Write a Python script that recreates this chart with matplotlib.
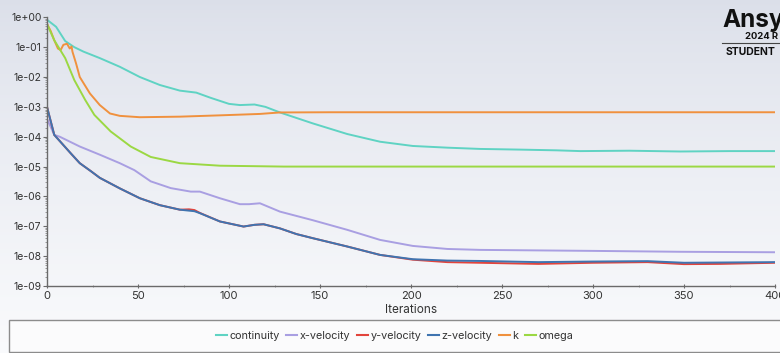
import numpy as np
import matplotlib
matplotlib.use("Agg")
import matplotlib.pyplot as plt
from matplotlib.lines import Line2D
from matplotlib.patches import Rectangle
from matplotlib.ticker import FixedLocator, FuncFormatter, LogLocator, MultipleLocator

plt.rcParams["font.family"] = ["Inter", "DejaVu Sans"]

# residual histories (iteration, residual)
cont_it = [0, 5, 10, 15, 20, 29, 40, 51, 62, 73, 82, 90, 100, 106, 114, 120, 128,
           146, 165, 183, 201, 220, 238, 260, 280, 293, 320, 348, 375, 400]
cont_val = [8.3e-01, 4.8e-01, 1.6e-01, 1.0e-01, 7.1e-02, 4.3e-02, 2.2e-02, 1.0e-02,
            5.4e-03, 3.5e-03, 3.0e-03, 2.0e-03, 1.26e-03, 1.15e-03, 1.2e-03, 1.0e-03,
            6.5e-04, 2.8e-04, 1.23e-04, 6.8e-05, 4.9e-05, 4.3e-05, 3.9e-05, 3.7e-05,
            3.5e-05, 3.3e-05, 3.4e-05, 3.2e-05, 3.3e-05, 3.3e-05]

xvel_it = [0, 4, 7, 18, 29, 40, 48, 57, 68, 79, 84, 95, 106, 111, 117, 128, 146,
           165, 183, 201, 220, 238, 300, 348, 400]
xvel_val = [4.0e-04, 1.15e-04, 1.0e-04, 4.7e-05, 2.5e-05, 1.3e-05, 7.6e-06, 3.2e-06,
            1.9e-06, 1.45e-06, 1.45e-06, 8.7e-07, 5.5e-07, 5.5e-07, 5.9e-07, 3.1e-07,
            1.6e-07, 7.6e-08, 3.5e-08, 2.2e-08, 1.74e-08, 1.62e-08, 1.5e-08, 1.4e-08,
            1.35e-08]

yvel_it = [0, 4, 13, 18, 24, 29, 40, 51, 62, 73, 78, 81, 84, 95, 108, 114, 119, 128,
           137, 146, 165, 183, 201, 220, 250, 270, 300, 330, 350, 370, 400]
yvel_val = [1.0e-03, 1.15e-04, 2.8e-05, 1.3e-05, 7.1e-06, 4.2e-06, 1.86e-06, 8.7e-07,
            5.1e-07, 3.6e-07, 3.7e-07, 3.5e-07, 2.8e-07, 1.45e-07, 9.8e-08, 1.12e-07,
            1.17e-07, 8.5e-08, 5.5e-08, 4.0e-08, 2.1e-08, 1.1e-08, 7.6e-09, 6.3e-09,
            5.8e-09, 5.5e-09, 6.0e-09, 6.3e-09, 5.4e-09, 5.5e-09, 6.0e-09]

zvel_it = [0, 4, 13, 18, 24, 29, 40, 51, 62, 73, 81, 84, 95, 108, 114, 119, 128,
           137, 146, 165, 183, 201, 220, 238, 270, 300, 330, 350, 400]
zvel_val = [1.0e-03, 1.15e-04, 2.8e-05, 1.3e-05, 7.1e-06, 4.2e-06, 1.86e-06, 8.7e-07,
            5.1e-07, 3.6e-07, 3.2e-07, 2.75e-07, 1.45e-07, 9.8e-08, 1.12e-07, 1.17e-07,
            8.5e-08, 5.5e-08, 4.0e-08, 2.1e-08, 1.1e-08, 7.9e-09, 7.1e-09, 6.9e-09,
            6.3e-09, 6.6e-09, 6.8e-09, 6.0e-09, 6.3e-09]

k_it = [0, 2, 4, 6, 7.5, 9, 11, 12.5, 13.5, 14, 16, 18, 23.6, 29, 34.6, 40, 51, 73,
        95, 117, 128, 155, 400]
k_val = [6.0e-01, 3.5e-01, 1.7e-01, 9.0e-02, 8.0e-02, 1.2e-01, 1.3e-01, 9.0e-02,
         1.05e-01, 7.0e-02, 2.8e-02, 1.0e-02, 2.8e-03, 1.15e-03, 6.0e-04, 5.0e-04,
         4.5e-04, 4.7e-04, 5.2e-04, 5.8e-04, 6.5e-04, 6.6e-04, 6.6e-04]

omega_it = [0, 4, 10, 15, 21, 26, 35, 46, 57, 73, 95, 130, 400]
omega_val = [6.0e-01, 1.7e-01, 4.3e-02, 7.9e-03, 1.7e-03, 5.4e-04, 1.5e-04, 4.7e-05,
             2.1e-05, 1.3e-05, 1.07e-05, 1.0e-05, 1.0e-05]

series_names = ["continuity", "x-velocity", "y-velocity", "z-velocity", "k", "omega"]
series_colors = ["#5fd3c3", "#a99fe2", "#e2443c", "#3f74b0", "#f0913e", "#9bd843"]
y_ticks = [1e0, 1e-1, 1e-2, 1e-3, 1e-4, 1e-5, 1e-6, 1e-7, 1e-8, 1e-9]

fig = plt.figure(figsize=(7.8, 3.53), dpi=100)

# soft grey-blue to white background
bg = fig.add_axes([0, 0, 1, 1], zorder=-10)
grad = np.linspace(0, 1, 256).reshape(-1, 1)
top = np.array([0.86, 0.875, 0.915])
bot = np.array([0.98, 0.983, 0.99])
img = top + (bot - top) * grad[:, :, None] ** 0.8
bg.imshow(img, aspect="auto", extent=[0, 1, 0, 1])
bg.axis("off")

ax = fig.add_axes([47 / 780, 67 / 353, 728 / 780, 268.7 / 353])
ax.patch.set_alpha(0)

data = [(cont_it, cont_val), (xvel_it, xvel_val), (yvel_it, yvel_val),
        (zvel_it, zvel_val), (k_it, k_val), (omega_it, omega_val)]
for (it, val), name, col in zip(data, series_names, series_colors):
    ax.plot(it, val, color=col, lw=1.4, label=name)

ax.set_yscale("log")
ax.set_ylim(1e-9, 1e0)
ax.set_xlim(0, 400)
ax.yaxis.set_major_locator(FixedLocator(y_ticks))
ax.yaxis.set_major_formatter(FuncFormatter(lambda v, p: f"{v:.0e}"))
ax.yaxis.set_minor_locator(LogLocator(base=10, subs=np.arange(2, 10)))
ax.xaxis.set_major_locator(MultipleLocator(50))
ax.xaxis.set_minor_locator(MultipleLocator(25))

for s in ["top", "right"]:
    ax.spines[s].set_visible(False)
for s in ["left", "bottom"]:
    ax.spines[s].set_color("#6a6a6a")
    ax.spines[s].set_linewidth(1.0)

ax.tick_params(axis="y", which="major", length=3, width=0.8, color="#6a6a6a",
               labelsize=7.5, labelcolor="#333333", pad=1)
ax.tick_params(axis="y", which="minor", length=1.5, width=0.6, color="#8a8a8a")
ax.tick_params(axis="x", which="major", direction="inout", length=3, width=0.8,
               color="#6a6a6a", labelsize=8, labelcolor="#333333", pad=2)
ax.tick_params(axis="x", which="minor", direction="inout", length=2, width=0.6,
               color="#8a8a8a")
ax.set_xlabel("Iterations", fontsize=8.5, color="#333333", labelpad=2)

# legend frame along the bottom
fig.patches.append(Rectangle((9 / 780, 1 / 353), 780 / 780, 32 / 353,
                             transform=fig.transFigure, facecolor="#fbfbfc",
                             edgecolor="#8c8c8c", lw=1.0, zorder=1))
handles = [Line2D([0], [0], color=c, lw=1.5) for c in series_colors]
fig.legend(handles, series_names, loc="center", bbox_to_anchor=(0.506, 17 / 353),
           ncol=6, frameon=False, fontsize=7.8, handlelength=1.0,
           handletextpad=0.25, columnspacing=0.6, labelcolor="#333333")

# watermark
fig.text(722 / 780, 1 - 27 / 353, "Ansys", fontsize=17.5, fontweight="bold",
         color="#111111")
fig.text(745 / 780, 1 - 39 / 353, "2024 R", fontsize=6.8, fontweight="bold",
         color="#111111")
fig.add_artist(Line2D([722 / 780, 1.0], [1 - 42.7 / 353] * 2, color="#444444",
                      lw=0.8, transform=fig.transFigure))
fig.text(726 / 780, 1 - 55 / 353, "STUDENT", fontsize=7.5, fontweight="bold",
         color="#111111")

fig.savefig("out.png", dpi=100)
